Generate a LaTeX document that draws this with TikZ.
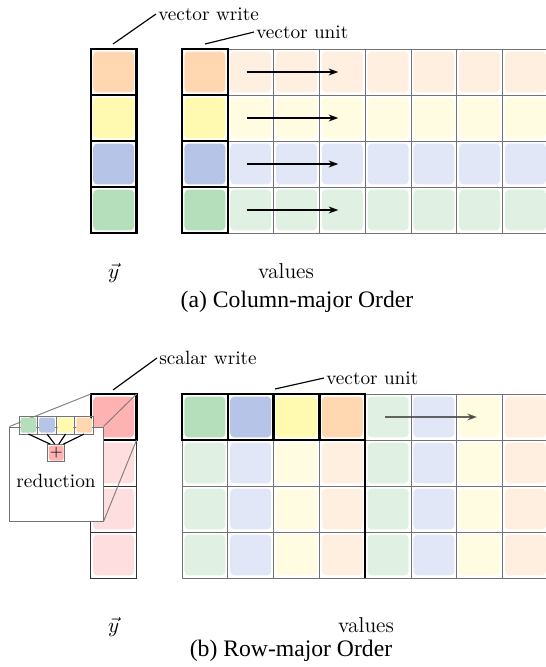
\documentclass[tikz,border=0pt]{standalone}
\usepackage{fontspec}
\newfontfamily\capfont{Liberation Serif}
\usetikzlibrary{arrows.meta,calc}
\definecolor{orF}{RGB}{255,216,177}
\definecolor{orL}{RGB}{255,239,224}
\definecolor{yeF}{RGB}{255,250,176}
\definecolor{yeL}{RGB}{255,252,226}
\definecolor{blF}{RGB}{182,196,232}
\definecolor{blL}{RGB}{225,231,246}
\definecolor{grF}{RGB}{181,222,187}
\definecolor{grL}{RGB}{224,241,227}
\definecolor{reF}{RGB}{255,178,178}
\definecolor{reL}{RGB}{255,222,224}
\begin{document}
\begin{tikzpicture}[x=0.52pt,y=-0.52pt,
  cellfill/.style={draw=none, rounded corners=2.2pt, minimum width=21.3pt, minimum height=21.3pt, inner sep=0pt, outer sep=0pt},
  smallfill/.style={draw=none, rounded corners=1.2pt, minimum width=8.2pt, minimum height=7.8pt, inner sep=0pt, outer sep=0pt},
  gridline/.style={draw=black!55, line width=0.5pt},
  thickline/.style={draw=black, line width=1.3pt},
  lab/.style={font=\fontsize{10}{12}\selectfont, inner sep=1pt},
  biglab/.style={font=\fontsize{11.2}{13}\selectfont, inner sep=0pt},
  caption/.style={font=\capfont\fontsize{12.3}{14}\selectfont, inner sep=0pt},
  leader/.style={draw=black, line width=0.6pt},
  arr/.style={draw=black, line width=0.7pt, -{Stealth[length=5pt,width=3.6pt]}},
  magline/.style={draw=black!50, line width=0.5pt}]
\useasboundingbox (0,0) rectangle (546,667);
\clip (0,0) rectangle (546,667);
% ================= (a) column-major =================
\foreach \r/\cf/\cl in {1/orF/orL,2/yeF/yeL,3/blF/blL,4/grF/grL}{
  \node[cellfill, fill=\cf] (ya-\r) at (113.7, 26+46*\r) {};
  \node[cellfill, fill=\cf] (va-\r-1) at (204.9, 26+46*\r) {};
  \foreach \k in {2,...,8}{
    \node[cellfill, fill=\cl] (va-\r-\k) at (159.1+45.8*\k, 26+46*\r) {};
  }
}
\foreach \r in {1,...,4}{
  \foreach \k in {2,...,8}{
    \draw[gridline] (va-\r-\k.center) +(-22.9,-23) rectangle +(22.9,23);
  }
}
\foreach \r in {1,...,4}{
  \draw[thickline] (ya-\r.center) +(-22.9,-23) rectangle +(22.9,23);
  \draw[thickline] (va-\r-1.center) +(-22.9,-23) rectangle +(22.9,23);
  \draw[arr] ($(va-\r-2.center)+(-4,0)$) -- ($(va-\r-4.center)+(-4,0)$);
}
\node[lab, anchor=west] (vwlab) at (156,14) {vector write};
\coordinate (vwpt) at (113,44);
\draw[leader] (vwpt) -- (vwlab.west);
\node[lab, anchor=west] (vulab) at (254,32) {vector unit};
\coordinate (vupt) at (205,44);
\draw[leader] (vupt) -- (vulab.west);
\node[biglab] (ya) at (113.7,273) {$\vec{y}$};
\node[biglab] (vala) at (286,271) {values};
\node[caption] (capa) at (297,302) {(a) Column-major Order};
% ================= (b) row-major =================
\node[cellfill, fill=reF] (yb-1) at (113.7, 417) {};
\foreach \r in {2,3,4}{
  \node[cellfill, fill=reL] (yb-\r) at (113.7, 371+46*\r) {};
}
\foreach \k/\cf/\cl in {1/grF/grL,2/blF/blL,3/yeF/yeL,4/orF/orL}{
  \node[cellfill, fill=\cf] (vb-1-\k) at (159.1+45.8*\k, 417) {};
  \foreach \r in {2,3,4}{
    \node[cellfill, fill=\cl] (vb-\r-\k) at (159.1+45.8*\k, 371+46*\r) {};
  }
}
\foreach \k/\cl in {5/grL,6/blL,7/yeL,8/orL}{
  \foreach \r in {1,...,4}{
    \node[cellfill, fill=\cl] (vb-\r-\k) at (159.1+45.8*\k, 371+46*\r) {};
  }
}
\foreach \r in {1,...,4}{
  \foreach \k in {1,...,8}{
    \draw[gridline] (vb-\r-\k.center) +(-22.9,-23) rectangle +(22.9,23);
  }
}
\foreach \r in {2,3,4}{
  \draw[gridline, draw=black!80] (yb-\r.center) +(-22.9,-23) rectangle +(22.9,23);
}
\draw[thickline] (yb-1.center) +(-22.9,-23) rectangle +(22.9,23);
\foreach \k in {1,...,4}{
  \draw[thickline] (vb-1-\k.center) +(-22.9,-23) rectangle +(22.9,23);
}
\draw[thickline] ($(vb-1-4.center)+(22.9,-23)$) -- ($(vb-4-4.center)+(22.9,23)$);
\coordinate (arrb-s) at (385,417);
\coordinate (arrb-e) at (477,417);
\draw[arr, draw=black!75, opacity=0.8] (arrb-s) -- (arrb-e);
\node[lab, anchor=west] (swlab) at (157,358) {scalar write};
\coordinate (swpt) at (113,390);
\draw[leader] (swpt) -- (swlab.west);
\node[lab, anchor=west] (vulabb) at (324,378) {vector unit};
\coordinate (vubpt) at (275,389);
\draw[leader] (vubpt) -- (vulabb.west);
% magnifier
\coordinate (rnw) at ($(yb-1.center)+(-22.9,-23)$);
\coordinate (rne) at ($(yb-1.center)+(22.9,-23)$);
\coordinate (rse) at ($(yb-1.center)+(22.9,23)$);
\node[draw=black!55, line width=0.5pt, fill=white, minimum width=48.4pt, minimum height=48.9pt, inner sep=0pt] (mag) at (56.5,474) {};
\draw[magline] (rnw) -- (mag.north west);
\draw[magline] (rne) -- (mag.north east);
\draw[magline] (rse) -- (mag.south east);
\foreach \i/\c in {1/grF,2/blF,3/yeF,4/orF}{
  \node[smallfill, fill=\c] (sc-\i) at (9.8+18.6*\i, 425) {};
  \draw[draw=black!55, line width=0.5pt] (sc-\i.center) +(-9.3,-9) rectangle +(9.3,9);
}
\node[smallfill, fill=reF, minimum width=7.6pt, minimum height=7.8pt] (plus) at (56.3,453) {};
\draw[draw=black!55, line width=0.5pt] (plus.center) +(-8.6,-8.8) rectangle +(8.6,8.8);
\node[inner sep=0pt, font=\fontsize{8}{8}\selectfont] (plustxt) at (plus.center) {$+$};
\draw[leader] ($(sc-1.center)+(0,9)$) -- ($(plus.center)+(-6,-8.8)$);
\draw[leader] ($(sc-2.center)+(0,9)$) -- ($(plus.center)+(-1.5,-8.8)$);
\draw[leader] ($(sc-3.center)+(0,9)$) -- ($(plus.center)+(2.5,-8.8)$);
\draw[leader] ($(sc-4.center)+(0,9)$) -- ($(plus.center)+(7,-8.8)$);
\node[lab] (redlab) at (56,481) {reduction};
\node[biglab] (yb) at (113.7,627) {$\vec{y}$};
\node[biglab] (valb) at (366,625) {values};
\node[caption] (capb) at (291,651) {(b) Row-major Order};
\end{tikzpicture}
\end{document}
